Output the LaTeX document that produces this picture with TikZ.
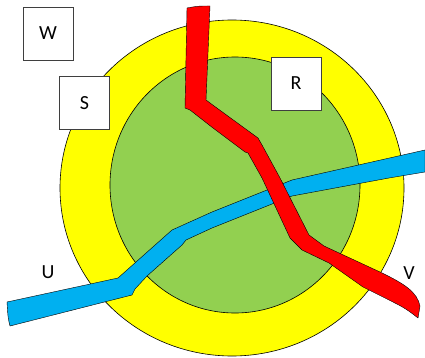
\documentclass[tikz,border=0pt]{standalone}
\usepackage{fontspec}
\setmainfont{Carlito}
\definecolor{ringyellow}{HTML}{FFFF00}
\definecolor{coregreen}{HTML}{92D050}
\definecolor{riverred}{HTML}{FF0000}
\definecolor{riverblue}{HTML}{00B0F0}
\definecolor{boxline}{HTML}{3F3F3F}
\tikzset{
  labelbox/.style={draw=boxline, line width=0.9pt, fill=white, minimum width=50pt, minimum height=53pt, inner sep=0pt, font=\fontsize{20}{22}\selectfont},
  freelabel/.style={inner sep=0pt, font=\fontsize{20}{22}\selectfont},
  zone/.style={draw=black, line width=0.6pt},
  river/.style={draw=black, line width=0.4pt, line join=round}
}
\begin{document}
\begin{tikzpicture}[x=1pt, y=-1pt]
\useasboundingbox (0,0) rectangle (425,358);
% zones
\path[zone, fill=ringyellow] (232,188) ellipse [x radius=172, y radius=168];
\path[zone, fill=coregreen] (235,185) ellipse [x radius=125, y radius=128];
% blue river
\path[river, fill=riverblue]
  (7,302) -- (118,278) -- (172,230) -- (212,212) -- (292,180) -- (425,150)
  -- (425,172) -- (389,178) -- (362,183) -- (292,196) -- (212,228)
  -- (186,240) -- (182,245) -- (147,276) -- (135,289) -- (132,295)
  -- (10,326) .. controls (8,318) .. (7,302) -- cycle;
% red river
\path[river, fill=riverred]
  (187,8) .. controls (198,6) .. (210,6) -- (206,100) -- (210,103) -- (258,138)
  -- (262,145) -- (280,178) -- (309,235) -- (324,246) -- (380,272)
  .. controls (405,284) and (417,292) .. (420,306) -- (418,318)
  .. controls (405,308) .. (383,297) -- (363,287) -- (329,263) -- (302,250)
  -- (290,238) -- (262,178) -- (248,153) -- (245,152) -- (213,128)
  -- (190,110) -- (185,108) -- cycle;
% boxes
\node[labelbox] (w) at (48,33.5) {W};
\node[labelbox] (s) at (84.5,103) {S};
\node[labelbox] (r) at (296,83.5) {R};
% labels
\node[freelabel] (u) at (48,272) {U};
\node[freelabel] (v) at (409,273) {V};
\end{tikzpicture}
\end{document}
